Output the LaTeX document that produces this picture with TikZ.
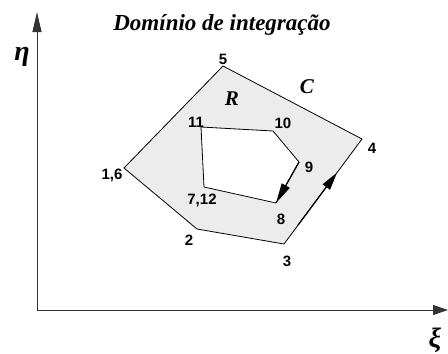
\documentclass[tikz,border=0pt]{standalone}
\usepackage{fontspec}
\setmainfont{Liberation Serif}
\newfontfamily\lab{Liberation Sans}
\usetikzlibrary{arrows.meta,calc}
\definecolor{regfill}{RGB}{236,236,236}
\tikzset{
  num/.style={font=\lab\bfseries\fontsize{15}{15}\selectfont, inner sep=0pt},
  greek/.style={font=\bfseries\itshape\fontsize{28}{28}\selectfont, inner sep=0pt},
  ital/.style={font=\bfseries\itshape\fontsize{21}{21}\selectfont, inner sep=0pt},
  edge/.style={line width=0.8pt, black},
  axis/.style={line width=0.9pt, black!80},
}
\begin{document}
\begin{tikzpicture}[x=1pt,y=-1pt]
\useasboundingbox (0,0) rectangle (448,354);
% axes
\coordinate (O) at (37,310);
\coordinate (Ytop) at (37,12);
\coordinate (Xend) at (448,310);
\draw[axis,-{Triangle[length=20pt,width=9pt]}] (O) -- (Ytop);
\draw[axis,-{Triangle[length=15pt,width=10pt]}] (O) -- (Xend);
% outer vertices
\coordinate (p1) at (124,168);
\coordinate (p2) at (197,229);
\coordinate (p3) at (284,244);
\coordinate (p4) at (362,139);
\coordinate (p5) at (223,66);
% inner vertices
\coordinate (q7) at (204,187);
\coordinate (q8) at (276,203);
\coordinate (q9) at (299,162);
\coordinate (q10) at (273,131);
\coordinate (q11) at (201,127);
% region with hole
\fill[regfill,even odd rule] (p1) -- (p2) -- (p3) -- (p4) -- (p5) -- cycle
  (q7) -- (q8) -- (q9) -- (q10) -- (q11) -- cycle;
\draw[edge] (p1) -- (p2) -- (p3) -- (p4) -- (p5) -- cycle;
\draw[edge] (q7) -- (q8) -- (q9) -- (q10) -- (q11) -- cycle;
% direction arrows
\coordinate (a3s) at ($(p3)!0.18!(p4)$);
\coordinate (a3e) at ($(p3)!0.68!(p4)$);
\draw[line width=1.2pt,-{Triangle[length=18pt,width=9pt]}] (a3s) -- (a3e);
\draw[line width=1.2pt,-{Triangle[length=20pt,width=9pt]}] (q9) -- (q8);
% labels
\node[num] (l5) at (223,59) {5};
\node[num] (l4) at (372,148) {4};
\node[num] (l3) at (287,261) {3};
\node[num] (l2) at (189,240) {2};
\node[num] (l1) at (112,175) {1,6};
\node[num] (l11) at (196,122) {11};
\node[num] (l10) at (283,123) {10};
\node[num] (l9) at (309,167) {9};
\node[num] (l8) at (281,219) {8};
\node[num] (l7) at (202,200) {7,12};
\node[ital] (R) at (232,99) {R};
\node[ital] (C) at (307,87) {C};
\node[greek] (eta) at (22,57) {η};
\node[greek] (xi) at (435,340) {ξ};
\node[font=\bfseries\itshape\fontsize{23}{23}\selectfont, inner sep=0pt] (title) at (222,25) {Domínio de integração};
\end{tikzpicture}
\end{document}
